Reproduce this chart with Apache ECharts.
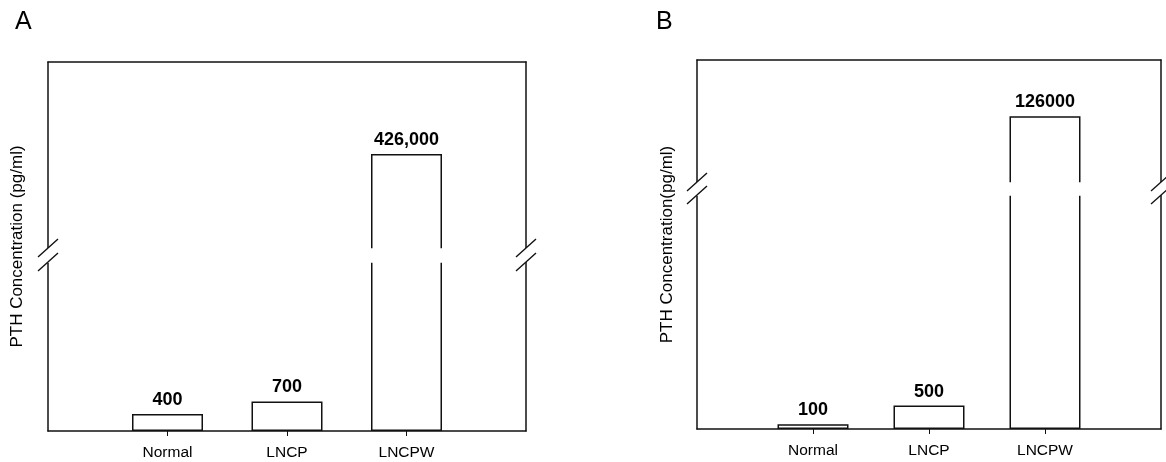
<!DOCTYPE html>
<html><head><meta charset="utf-8">
<script src="https://cdn.jsdelivr.net/npm/echarts@6/dist/echarts.min.js"></script>
<style>html,body{margin:0;padding:0;background:#fff}#c{width:1166px;height:462px}</style>
</head><body><div id="c"></div>
<script>
// ---- data ----
const categories = ['', 'Normal', 'LNCP', 'LNCPW', ''];
const valuesA = ['-', 400, 700, 426000, '-'];
const valuesB = ['-', 100, 500, 126000, '-'];
const labelsA = ['', '400', '700', '426,000', ''];
const labelsB = ['', '100', '500', '126000', ''];
const panelTitles = ['A', 'B'];
const yNames = ['PTH Concentration (pg/ml)', 'PTH Concentration(pg/ml)'];
// broken value axes: [min, breakStart, breakEnd, max, gap]
const axisA = [0, 4000, 423775, 428180, 331];
const axisB = [0, 5000, 124590, 127200, 278];

const chart = echarts.init(document.getElementById('c'), null, {renderer: 'canvas'});
const black = '#111';
const lw = 1.5;

const grids = [
  {left: 48, top: 62, width: 478, height: 369},
  {left: 697, top: 60, width: 464, height: 369}
];
const axes = [axisA, axisB];
const vals = [valuesA, valuesB];
const labs = [labelsA, labelsB];
const nameGaps = [22, 21];

const xAxis = [], yAxis = [], series = [];
for (let g = 0; g < 2; g++) {
  xAxis.push({
    type: 'category', gridIndex: g, data: categories, boundaryGap: false, position: 'bottom',
    axisLine: {show: true, onZero: false, lineStyle: {color: black, width: lw}},
    axisTick: {show: true, length: 5, interval: (i) => i > 0 && i < categories.length - 1, lineStyle: {color: black, width: 1}},
    axisLabel: {show: true, interval: 0, margin: 14, fontSize: 15.5, color: '#000', fontFamily: 'Liberation Sans, Arial'},
    splitLine: {show: false}
  });
  xAxis.push({
    type: 'category', gridIndex: g, data: categories, boundaryGap: false, position: 'top',
    axisLine: {show: true, onZero: false, lineStyle: {color: black, width: lw}},
    axisTick: {show: false}, axisLabel: {show: false}, splitLine: {show: false}
  });
  const a = axes[g];
  const common = {
    type: 'value', gridIndex: g, min: a[0], max: a[3],
    breaks: [{start: a[1], end: a[2], gap: a[4]}],
    breakArea: {show: true, itemStyle: {color: '#fff', borderColor: '#fff', borderWidth: 0, opacity: 1}, zigzagAmplitude: 0, expandOnClick: false},
    axisLine: {show: true, onZero: false, lineStyle: {color: black, width: lw}},
    axisTick: {show: false}, axisLabel: {show: false}, splitLine: {show: false}
  };
  yAxis.push(Object.assign({}, common, {
    position: 'left', name: yNames[g], nameLocation: 'middle', nameGap: nameGaps[g],
    nameTextStyle: {fontSize: 17, color: '#000', fontFamily: 'Liberation Sans, Arial'}
  }));
  yAxis.push(Object.assign({}, common, {position: 'right'}));
  series.push({
    type: 'bar', xAxisIndex: g * 2, yAxisIndex: g * 2, data: vals[g], barWidth: 71,
    itemStyle: {color: '#fff', borderColor: black, borderWidth: lw},
    label: {show: true, position: 'top', distance: 5, fontSize: 18, fontWeight: 'bold', color: '#000',
      fontFamily: 'Liberation Sans, Arial', formatter: (p) => labs[g][p.dataIndex]},
    silent: true, animation: false
  });
}

chart.setOption({
  animation: false,
  backgroundColor: '#fff',
  title: [
    {text: panelTitles[0], left: 10, top: 5, textStyle: {fontSize: 25, fontWeight: 'normal', color: '#000', fontFamily: 'Liberation Sans, Arial'}},
    {text: panelTitles[1], left: 651, top: 5, textStyle: {fontSize: 25, fontWeight: 'normal', color: '#000', fontFamily: 'Liberation Sans, Arial'}}
  ],
  grid: grids,
  xAxis: xAxis,
  yAxis: yAxis,
  series: series
});

// gaps in the vertical frame lines + break marks (double slashes)
const graphics = [];
for (let g = 0; g < 2; g++) {
  const a = axes[g];
  const yLow = chart.convertToPixel({yAxisIndex: g * 2}, a[1]);
  const yHigh = chart.convertToPixel({yAxisIndex: g * 2}, a[2]);
  const xl = chart.convertToPixel({xAxisIndex: g * 2}, 0);
  const xr = chart.convertToPixel({xAxisIndex: g * 2}, categories.length - 1);
  [xl, xr].forEach((x) => {
    graphics.push({type: 'rect', z: 150, silent: true,
      shape: {x: x - 4, y: Math.min(yHigh, yLow), width: 8, height: Math.abs(yLow - yHigh)},
      style: {fill: '#fff'}});
    [yHigh, yLow].forEach((y) => {
      graphics.push({type: 'line', z: 200, silent: true,
        shape: {x1: x - 10, y1: y + 9, x2: x + 10, y2: y - 9},
        style: {stroke: black, lineWidth: 1.4}});
    });
  });
}
chart.setOption({graphic: graphics});
</script></body></html>
